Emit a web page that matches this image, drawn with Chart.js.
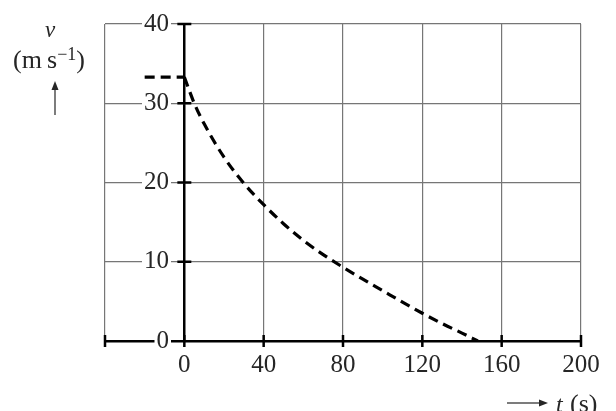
<!DOCTYPE html>
<html>
<head>
<meta charset="utf-8">
<script src="https://cdn.jsdelivr.net/npm/chart.js@4.4.1/dist/chart.umd.min.js"></script>
<style>
  html, body { margin: 0; padding: 0; background: #fff; }
  #chartBox { width: 616px; height: 411px; }
</style>
</head>
<body>
<div id="chartBox"><canvas id="myChart" width="616" height="411"></canvas></div>
<script>
// speed before t = 0 (constant) and the braking curve after it
const flatTimes = [-20, 0];
const flatSpeeds = [33.3, 33.3];
const curveTimes = [0, 5, 10, 20, 30, 40, 50, 60, 70, 80, 90, 100, 110, 120, 130, 140, 148];
const curveSpeeds = [33.3, 30.0, 27.4, 23.2, 19.9, 17.2, 14.8, 12.7, 10.9, 9.3, 7.8, 6.35, 4.9, 3.5, 2.2, 1.0, 0];

const xTickValues = [-40, 0, 40, 80, 120, 160, 200];
const yTickValues = [0, 10, 20, 30, 40];

const serif = '"Liberation Serif", "Times New Roman", serif';
const gridGrey = '#767676';
const textColor = '#262626';

const toPoints = (xs, ys) => xs.map((t, i) => ({x: t, y: ys[i]}));

function arrow(ctx, x1, y1, x2, y2) {
    const ang = Math.atan2(y2 - y1, x2 - x1);
    const len = 9, half = 3.5;
    const bx = x2 - len * Math.cos(ang), by = y2 - len * Math.sin(ang);
    ctx.beginPath();
    ctx.moveTo(x1, y1);
    ctx.lineTo(bx, by);
    ctx.stroke();
    ctx.beginPath();
    ctx.moveTo(x2, y2);
    ctx.lineTo(bx - half * Math.sin(ang), by + half * Math.cos(ang));
    ctx.lineTo(bx + half * Math.sin(ang), by - half * Math.cos(ang));
    ctx.closePath();
    ctx.fill();
}

const axisExtras = {
    id: 'axisExtras',
    afterDraw(chart) {
        const {ctx, chartArea, scales: {x, y}} = chart;
        const x0 = x.getPixelForValue(0);
        ctx.save();
        // thick tick marks crossing the axes
        ctx.strokeStyle = '#000';
        ctx.lineWidth = 2.5;
        ctx.beginPath();
        xTickValues.forEach(v => {
            const px = x.getPixelForValue(v);
            ctx.moveTo(px, chartArea.bottom - 6);
            ctx.lineTo(px, chartArea.bottom + 6);
        });
        yTickValues.forEach(v => {
            if (v === 0) return;
            const py = y.getPixelForValue(v);
            ctx.moveTo(x0 - 7, py);
            ctx.lineTo(x0 + 7, py);
        });
        ctx.stroke();

        // axis titles
        ctx.fillStyle = textColor;
        ctx.strokeStyle = textColor;
        ctx.lineWidth = 1.2;
        ctx.textBaseline = 'alphabetic';

        ctx.textAlign = 'center';
        ctx.font = 'italic 23px ' + serif;
        ctx.fillText('v', 50, 37);

        ctx.textAlign = 'left';
        const mainFont = '26px ' + serif, supFont = '18px ' + serif;
        ctx.font = mainFont;
        const w1 = ctx.measureText('(m\u2009s').width;
        const w3 = ctx.measureText(')').width;
        ctx.font = supFont;
        const w2 = ctx.measureText('\u22121').width;
        let tx = 49 - (w1 + w2 + w3) / 2;
        ctx.font = mainFont;
        ctx.fillText('(m\u2009s', tx, 68);
        tx += w1;
        ctx.font = supFont;
        ctx.fillText('\u22121', tx, 60);
        tx += w2;
        ctx.font = mainFont;
        ctx.fillText(')', tx, 68);

        arrow(ctx, 55, 115, 55, 81);

        arrow(ctx, 507, 403, 548, 403);
        ctx.font = 'italic 24px ' + serif;
        ctx.fillText('t', 556, 412);
        ctx.font = '26px ' + serif;
        ctx.fillText('(s)', 570, 412);
        ctx.restore();
    }
};

const data = {
    datasets: [
        {
            data: toPoints(flatTimes, flatSpeeds),
            borderColor: '#000',
            borderWidth: 3.2,
            borderDash: [10, 6],
            pointRadius: 0,
            tension: 0
        },
        {
            data: toPoints(curveTimes, curveSpeeds),
            borderColor: '#000',
            borderWidth: 3.2,
            borderDash: [10, 6],
            pointRadius: 0,
            cubicInterpolationMode: 'monotone'
        }
    ]
};

const config = {
    type: 'line',
    data: data,
    options: {
        responsive: false,
        animation: false,
        layout: {
            padding: {left: 105, right: 35, top: 24, bottom: 22}
        },
        plugins: {
            legend: {display: false},
            tooltip: {enabled: false}
        },
        scales: {
            x: {
                type: 'linear',
                min: -40,
                max: 200,
                afterBuildTicks: s => { s.ticks = xTickValues.map(v => ({value: v})); },
                grid: {
                    drawTicks: false,
                    color: c => (c.tick && c.tick.value === 0) ? '#000' : gridGrey,
                    lineWidth: c => (c.tick && c.tick.value === 0) ? 2.5 : 1.2
                },
                border: {display: true, color: '#000', width: 2.5},
                ticks: {
                    padding: 9,
                    maxRotation: 0,
                    autoSkip: false,
                    color: textColor,
                    font: {family: serif, size: 25},
                    callback: v => v === -40 ? '' : String(v)
                }
            },
            y: {
                min: 0,
                max: 40,
                afterBuildTicks: s => { s.ticks = yTickValues.map(v => ({value: v})); },
                afterFit: s => { s.width = 0; s.paddingTop = 0; s.paddingBottom = 0; },
                grid: {drawTicks: false, color: gridGrey, lineWidth: 1.2},
                border: {display: false},
                ticks: {
                    mirror: true,
                    crossAlign: 'far',
                    padding: 39,
                    z: 1,
                    color: textColor,
                    font: {family: serif, size: 25},
                    showLabelBackdrop: true,
                    backdropColor: '#fff',
                    backdropPadding: {x: 2, y: 0}
                }
            }
        }
    },
    plugins: [axisExtras]
};

const ctx = document.getElementById('myChart').getContext('2d');
const chartItem = Chart.getChart('myChart');
if (chartItem) chartItem.destroy();
const chart = new Chart(ctx, config);
</script>
</body>
</html>
